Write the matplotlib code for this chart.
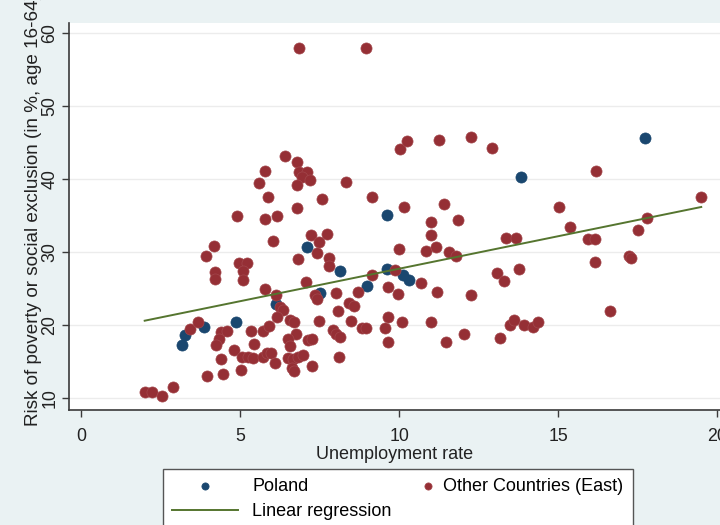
import matplotlib.pyplot as plt
from matplotlib.legend_handler import HandlerPathCollection

# Poland (navy points)
pl_x = [3.18, 3.27, 3.87, 4.87, 6.13, 7.11, 8.14, 7.52, 8.99, 9.62, 9.62, 10.13, 10.31, 13.84, 17.74]
pl_y = [17.3, 18.6, 19.7, 20.4, 22.9, 30.7, 27.4, 24.4, 25.4, 35.1, 27.7, 26.9, 26.2, 40.3, 45.7]

# other eastern countries (maroon points)
oth_x = [6.86, 8.96, 6.42, 6.79, 5.79, 6.86, 7.11, 6.95, 7.20, 5.60, 6.79, 8.33, 5.88, 7.58, 6.79,
         4.91, 5.79, 6.16, 9.15, 10.16, 10.03, 10.25, 11.26, 12.26, 12.92, 16.19, 11.42, 11.01, 11.86,
         15.03, 15.38, 19.50, 17.80, 17.52, 4.18, 3.93, 4.21, 4.21, 4.97, 5.22, 5.09, 5.09, 5.79, 6.04,
         7.23, 7.74, 7.48, 7.42, 6.82, 7.80, 7.80, 7.08, 6.13, 6.26, 6.35, 6.16, 5.72, 5.91, 7.36, 7.42,
         8.02, 8.71, 9.15, 9.87, 9.65, 9.97, 8.08, 8.43, 8.58, 10.00, 10.85, 11.16, 11.57, 11.79, 11.01,
         13.36, 13.68, 15.94, 16.16, 16.16, 17.23, 17.30, 10.69, 11.19, 12.26, 13.08, 13.30, 13.77, 16.64,
         2.01, 2.23, 2.55, 2.89, 3.43, 3.68, 4.40, 4.59, 4.34, 4.25, 5.35, 5.44, 4.81, 5.06, 5.25, 5.41,
         5.72, 5.85, 5.97, 6.10, 4.40, 4.47, 5.03, 3.96, 6.51, 6.67, 6.82, 6.98, 6.64, 6.70, 6.57, 6.70,
         6.76, 6.51, 6.57, 7.14, 7.26, 7.92, 8.02, 8.14, 8.84, 8.96, 9.56, 9.65, 10.09, 9.65, 8.11, 7.26,
         7.48, 8.49, 11.01, 11.48, 12.04, 13.18, 13.49, 13.62, 13.93, 14.21, 14.37]
oth_y = [58.0, 58.0, 43.2, 42.4, 41.1, 41.0, 41.0, 40.3, 39.9, 39.5, 39.2, 39.6, 37.6, 37.3, 36.1,
         35.0, 34.6, 35.0, 37.6, 36.2, 44.2, 45.3, 45.4, 45.8, 44.3, 41.1, 36.6, 34.1, 34.4,
         36.2, 33.5, 37.6, 34.7, 33.0, 30.9, 29.5, 27.3, 26.3, 28.5, 28.5, 27.4, 26.2, 25.0, 31.5,
         32.4, 32.5, 31.4, 29.9, 29.1, 29.2, 28.1, 25.9, 24.1, 22.5, 22.1, 21.1, 19.2, 19.9, 24.1, 23.6,
         24.4, 24.5, 26.9, 27.6, 25.2, 24.3, 21.9, 23.0, 22.6, 30.4, 30.2, 30.7, 30.0, 29.5, 32.4,
         31.9, 31.9, 31.8, 31.8, 28.7, 29.5, 29.2, 25.8, 24.5, 24.1, 27.1, 26.0, 27.7, 21.9,
         10.8, 10.8, 10.3, 11.5, 19.5, 20.4, 19.1, 19.2, 18.1, 17.3, 19.2, 17.4, 16.6, 15.6, 15.6, 15.5,
         15.6, 16.2, 16.2, 14.8, 15.3, 13.3, 13.8, 13.0, 15.5, 15.3, 15.6, 15.9, 14.1, 13.7, 20.7, 20.4,
         18.8, 18.1, 17.1, 18.0, 18.1, 19.3, 18.8, 18.4, 19.6, 19.6, 19.6, 21.1, 20.4, 17.7, 15.6, 14.4,
         20.6, 20.6, 20.4, 17.7, 18.8, 18.2, 20.0, 20.7, 20.0, 19.7, 20.4]

# fitted line
reg_x = [2.0, 19.5]
reg_y = [20.6, 36.2]

x_ticks = [0, 5, 10, 15, 20]
y_ticks = [10, 20, 30, 40, 50, 60]

navy = '#1a476f'
maroon = '#952f35'
green = '#55752f'
bg = '#eaf2f3'

plt.rcParams['font.family'] = ['Liberation Sans', 'DejaVu Sans']

fig = plt.figure(figsize=(7.2, 5.25), dpi=100, facecolor=bg)
ax = fig.add_axes([69 / 720, 1 - 410 / 525, 1 - 69 / 720, 387 / 525])
ax.set_facecolor('white')

s1 = ax.scatter(pl_x, pl_y, s=64, color=navy, edgecolor=navy, linewidth=0.5, zorder=3, label='Poland')
s2 = ax.scatter(oth_x, oth_y, s=64, color=maroon, edgecolor='#a3474c', linewidth=0.5, zorder=3,
                label='Other Countries (East)')
l1, = ax.plot(reg_x, reg_y, color=green, lw=1.4, zorder=4, label='Linear regression')

ax.set_xlim(-0.38, 20.09)
ax.set_ylim(8.35, 61.44)
ax.set_xticks(x_ticks)
ax.set_yticks(y_ticks)
ax.grid(axis='y', color='#ececec', lw=1)
ax.set_axisbelow(True)

for side in ['top', 'right']:
    ax.spines[side].set_visible(False)
for side in ['left', 'bottom']:
    ax.spines[side].set_color('#3a3a3a')
    ax.spines[side].set_linewidth(1.2)

ax.tick_params(direction='out', length=5, width=1, color='#3a3a3a', labelsize=12.8, labelcolor='#222')
ax.tick_params(axis='x', pad=8)
ax.tick_params(axis='y', pad=2.7)
for t in ax.get_yticklabels():
    t.set_rotation(90)
    t.set_va('center')

ax.set_xlabel('Unemployment rate', fontsize=13, color='#222', labelpad=1)
ax.set_ylabel('Risk of poverty or social exclusion (in %, age 16-64)', fontsize=13.6, color='#222')
ax.yaxis.set_label_coords(-0.0415, 0.517)

leg = fig.legend([s1, l1, s2], ['Poland', 'Linear regression', 'Other Countries (East)'],
                 ncol=2, loc='upper left', bbox_to_anchor=(163 / 720, 1 - 469 / 525),
                 borderaxespad=0, fontsize=13, frameon=True, fancybox=False,
                 edgecolor='#555555', framealpha=1, handlelength=3.65, handletextpad=0.78,
                 columnspacing=-1.55, borderpad=0.5, labelspacing=0.45, markerscale=0.65,
                 handler_map={s2: HandlerPathCollection(xpad=3.54)})
leg.get_frame().set_linewidth(1.0)

fig.savefig('out.png', dpi=100, facecolor=bg)
